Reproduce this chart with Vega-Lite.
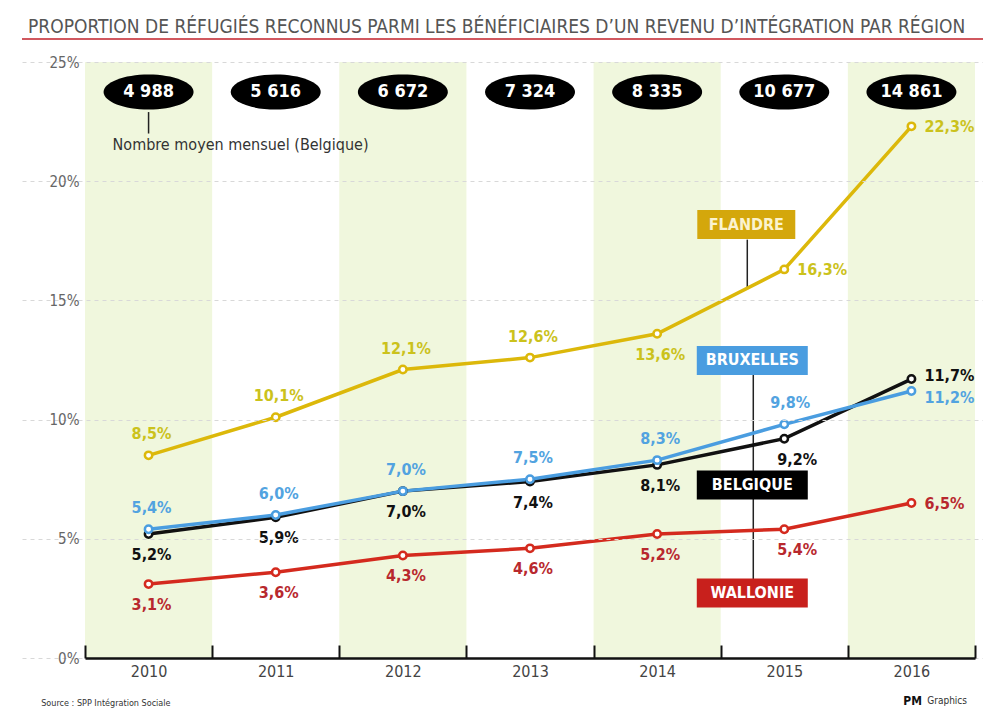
{
  "$schema": "https://vega.github.io/schema/vega-lite/v6.json",
  "width": 890,
  "height": 596,
  "autosize": {"type": "none"},
  "padding": {"left": 85, "top": 62, "right": 8, "bottom": 50},
  "background": "white",
  "config": {"view": {"stroke": null}},
  "title": {
    "text": "PROPORTION DE RÉFUGIÉS RECONNUS PARMI LES BÉNÉFICIAIRES D’UN REVENU D’INTÉGRATION PAR RÉGION",
    "anchor": "start",
    "frame": "group",
    "dx": -57,
    "offset": 1,
    "font": "Liberation Sans Narrow, DejaVu Sans Condensed",
    "fontSize": 19,
    "fontWeight": "normal",
    "color": "#555555"
  },
  "datasets": {
    "series": [
      {"region": "Wallonie", "year": 2010, "value": 3.1},
      {"region": "Wallonie", "year": 2011, "value": 3.6},
      {"region": "Wallonie", "year": 2012, "value": 4.3},
      {"region": "Wallonie", "year": 2013, "value": 4.6},
      {"region": "Wallonie", "year": 2014, "value": 5.2},
      {"region": "Wallonie", "year": 2015, "value": 5.4},
      {"region": "Wallonie", "year": 2016, "value": 6.5},
      {"region": "Belgique", "year": 2010, "value": 5.2},
      {"region": "Belgique", "year": 2011, "value": 5.9},
      {"region": "Belgique", "year": 2012, "value": 7.0},
      {"region": "Belgique", "year": 2013, "value": 7.4},
      {"region": "Belgique", "year": 2014, "value": 8.1},
      {"region": "Belgique", "year": 2015, "value": 9.2},
      {"region": "Belgique", "year": 2016, "value": 11.7},
      {"region": "Bruxelles", "year": 2010, "value": 5.4},
      {"region": "Bruxelles", "year": 2011, "value": 6.0},
      {"region": "Bruxelles", "year": 2012, "value": 7.0},
      {"region": "Bruxelles", "year": 2013, "value": 7.5},
      {"region": "Bruxelles", "year": 2014, "value": 8.3},
      {"region": "Bruxelles", "year": 2015, "value": 9.8},
      {"region": "Bruxelles", "year": 2016, "value": 11.2},
      {"region": "Flandre", "year": 2010, "value": 8.5},
      {"region": "Flandre", "year": 2011, "value": 10.1},
      {"region": "Flandre", "year": 2012, "value": 12.1},
      {"region": "Flandre", "year": 2013, "value": 12.6},
      {"region": "Flandre", "year": 2014, "value": 13.6},
      {"region": "Flandre", "year": 2015, "value": 16.3},
      {"region": "Flandre", "year": 2016, "value": 22.3}
    ],
    "counts": [
      {"year": 2010, "count": 4988},
      {"year": 2011, "count": 5616},
      {"year": 2012, "count": 6672},
      {"year": 2013, "count": 7324},
      {"year": 2014, "count": 8335},
      {"year": 2015, "count": 10677},
      {"year": 2016, "count": 14861}
    ]
  },
  "resolve": {"scale": {"x": "independent"}, "axis": {"x": "independent"}},
  "layer": [
    {
      "data": {"values": [{"note": "decor"}]},
      "layer": [
        {
          "mark": {"type": "rule", "color": "#c0202a", "strokeWidth": 1.5},
          "encoding": {
            "x": {"datum": 0, "type": "quantitative", "scale": {"domain": [0, 1], "range": [-63, 898]}, "axis": null},
            "x2": {"datum": 1},
            "y": {"datum": 25.96, "type": "quantitative"}
          }
        },
        {
          "mark": {"type": "text", "text": "Source : SPP Intégration Sociale", "align": "left", "baseline": "middle", "fontSize": 9, "color": "#333333", "font": "Liberation Sans Narrow, DejaVu Sans Condensed"},
          "encoding": {
            "x": {"datum": 0.02, "type": "quantitative"},
            "y": {"datum": -1.9, "type": "quantitative"}
          }
        },
        {
          "mark": {"type": "text", "text": "PM", "align": "left", "baseline": "middle", "fontSize": 12, "fontWeight": "bold", "color": "#111111", "font": "DejaVu Sans Condensed"},
          "encoding": {
            "x": {"datum": 0.917, "type": "quantitative"},
            "y": {"datum": -1.8, "type": "quantitative"}
          }
        },
        {
          "mark": {"type": "text", "text": "Graphics", "align": "left", "baseline": "middle", "fontSize": 10, "color": "#333333", "font": "DejaVu Sans Condensed"},
          "encoding": {
            "x": {"datum": 0.942, "type": "quantitative"},
            "y": {"datum": -1.8, "type": "quantitative"}
          }
        }
      ]
    },
    {
      "data": {"name": "series"},
      "encoding": {
        "x": {
          "field": "year",
          "type": "ordinal",
          "scale": {"domain": [2010, 2011, 2012, 2013, 2014, 2015, 2016], "paddingInner": 0, "paddingOuter": 0},
          "axis": {
            "orient": "bottom",
            "title": null,
            "labelAngle": 0,
            "labelFont": "Liberation Sans Narrow, DejaVu Sans Condensed",
            "labelFontSize": 16,
            "labelColor": "#444444",
            "domainColor": "#111111",
            "domainWidth": 2.5,
            "tickColor": "#111111",
            "tickWidth": 2,
            "tickSize": -13,
            "tickBand": "extent",
            "labelPadding": 18,
            "zindex": 1
          }
        }
      },
      "layer": [
        {
          "transform": [{"filter": "datum.region === 'Flandre' && datum.year % 2 === 0"}],
          "mark": {"type": "rect", "color": "#f0f7dd"},
          "encoding": {
            "y": {"datum": 0, "type": "quantitative"},
            "y2": {"datum": 25}
          }
        },
        {
          "data": {"values": [{"note": "connector"}]},
          "layer": [
            {
              "mark": {"type": "rule", "color": "#222222", "strokeWidth": 1.5, "xOffset": -37},
              "encoding": {
                "x": {"datum": 2015, "type": "ordinal"},
                "y": {"datum": 17.55, "type": "quantitative"},
                "y2": {"datum": 15.5}
              }
            },
            {
              "mark": {"type": "rule", "color": "#222222", "strokeWidth": 1.5, "xOffset": -31},
              "encoding": {
                "x": {"datum": 2015, "type": "ordinal"},
                "y": {"datum": 11.87, "type": "quantitative"},
                "y2": {"datum": 3.31}
              }
            },
            {
              "mark": {"type": "rule", "color": "#222222", "strokeWidth": 1.5},
              "encoding": {
                "x": {"datum": 2010, "type": "ordinal"},
                "y": {"datum": 22.9, "type": "quantitative"},
                "y2": {"datum": 22.0}
              }
            },
            {
              "mark": {"type": "text", "text": "Nombre moyen mensuel (Belgique)", "align": "left", "baseline": "middle", "fontSize": 16, "color": "#333333", "font": "Liberation Sans Narrow, DejaVu Sans Condensed", "dx": -36},
              "encoding": {
                "x": {"datum": 2010, "type": "ordinal"},
                "y": {"datum": 21.5, "type": "quantitative"}
              }
            }
          ]
        },
        {
          "mark": {"type": "line", "strokeWidth": 3.5},
          "encoding": {
            "y": {
              "field": "value",
              "type": "quantitative",
              "scale": {"domain": [0, 25], "nice": false},
              "axis": {
                "values": [0, 5, 10, 15, 20, 25],
                "labelExpr": "datum.value + '%'",
                "grid": true,
                "gridDash": [4, 4],
                "gridColor": "#d8d8d8",
                "ticks": false,
                "domain": false,
                "labelColor": "#666666",
                "labelFontSize": 15,
                "labelFont": "Liberation Sans Narrow, DejaVu Sans Condensed",
                "labelPadding": 6,
                "title": null,
                "zindex": 1
              }
            },
            "stroke": {
              "field": "region",
              "type": "nominal",
              "scale": {"domain": ["Wallonie", "Belgique", "Bruxelles", "Flandre"], "range": ["#d42a1e", "#111111", "#4a9de0", "#dcb80a"]},
              "legend": null
            }
          }
        },
        {
          "mark": {"type": "point", "shape": "circle", "filled": true, "fill": "white", "strokeWidth": 2.5, "size": 55, "opacity": 1},
          "encoding": {
            "y": {"field": "value", "type": "quantitative"},
            "stroke": {"field": "region", "type": "nominal", "legend": null}
          }
        },
        {
          "transform": [
            {"filter": "(datum.region === 'Flandre' && datum.year <= 2013) || (datum.region === 'Bruxelles' && datum.year <= 2014)"},
            {"calculate": "replace(format(datum.value, '.1f'), '.', ',') + '%'", "as": "label"}
          ],
          "mark": {"type": "text", "fontWeight": "bold", "fontSize": 16, "font": "DejaVu Sans Condensed", "baseline": "middle", "align": "center", "dy": -21, "dx": 3},
          "encoding": {
            "y": {"field": "value", "type": "quantitative"},
            "text": {"field": "label"},
            "color": {"field": "region", "type": "nominal", "scale": {"domain": ["Wallonie", "Belgique", "Bruxelles", "Flandre"], "range": ["#b8282e", "#111111", "#52a3e0", "#cbc21c"]}, "legend": null}
          }
        },
        {
          "transform": [
            {"filter": "datum.region === 'Bruxelles' && datum.year === 2015"},
            {"calculate": "replace(format(datum.value, '.1f'), '.', ',') + '%'", "as": "label"}
          ],
          "mark": {"type": "text", "fontWeight": "bold", "fontSize": 16, "font": "DejaVu Sans Condensed", "baseline": "middle", "align": "center", "dy": -21, "dx": 6},
          "encoding": {
            "y": {"field": "value", "type": "quantitative"},
            "text": {"field": "label"},
            "color": {"field": "region", "type": "nominal", "legend": null}
          }
        },
        {
          "transform": [
            {"filter": "(datum.region === 'Flandre' && datum.year === 2014) || ((datum.region === 'Belgique' || datum.region === 'Wallonie') && datum.year <= 2014)"},
            {"calculate": "replace(format(datum.value, '.1f'), '.', ',') + '%'", "as": "label"}
          ],
          "mark": {"type": "text", "fontWeight": "bold", "fontSize": 16, "font": "DejaVu Sans Condensed", "baseline": "middle", "align": "center", "dy": 21, "dx": 3},
          "encoding": {
            "y": {"field": "value", "type": "quantitative"},
            "text": {"field": "label"},
            "color": {"field": "region", "type": "nominal", "legend": null}
          }
        },
        {
          "transform": [
            {"filter": "(datum.region === 'Belgique' || datum.region === 'Wallonie') && datum.year === 2015"},
            {"calculate": "replace(format(datum.value, '.1f'), '.', ',') + '%'", "as": "label"}
          ],
          "mark": {"type": "text", "fontWeight": "bold", "fontSize": 16, "font": "DejaVu Sans Condensed", "baseline": "middle", "align": "center", "dy": 21, "dx": 13},
          "encoding": {
            "y": {"field": "value", "type": "quantitative"},
            "text": {"field": "label"},
            "color": {"field": "region", "type": "nominal", "legend": null}
          }
        },
        {
          "transform": [
            {"filter": "(datum.year === 2016 && (datum.region === 'Flandre' || datum.region === 'Wallonie')) || (datum.region === 'Flandre' && datum.year === 2015)"},
            {"calculate": "replace(format(datum.value, '.1f'), '.', ',') + '%'", "as": "label"}
          ],
          "mark": {"type": "text", "fontWeight": "bold", "fontSize": 16, "font": "DejaVu Sans Condensed", "baseline": "middle", "align": "left", "dx": 13, "dy": 1},
          "encoding": {
            "y": {"field": "value", "type": "quantitative"},
            "text": {"field": "label"},
            "color": {"field": "region", "type": "nominal", "legend": null}
          }
        },
        {
          "transform": [
            {"filter": "datum.year === 2016 && datum.region === 'Belgique'"},
            {"calculate": "replace(format(datum.value, '.1f'), '.', ',') + '%'", "as": "label"}
          ],
          "mark": {"type": "text", "fontWeight": "bold", "fontSize": 16, "font": "DejaVu Sans Condensed", "baseline": "middle", "align": "left", "dx": 13, "dy": -3},
          "encoding": {
            "y": {"field": "value", "type": "quantitative"},
            "text": {"field": "label"},
            "color": {"field": "region", "type": "nominal", "legend": null}
          }
        },
        {
          "transform": [
            {"filter": "datum.year === 2016 && datum.region === 'Bruxelles'"},
            {"calculate": "replace(format(datum.value, '.1f'), '.', ',') + '%'", "as": "label"}
          ],
          "mark": {"type": "text", "fontWeight": "bold", "fontSize": 16, "font": "DejaVu Sans Condensed", "baseline": "middle", "align": "left", "dx": 13, "dy": 7},
          "encoding": {
            "y": {"field": "value", "type": "quantitative"},
            "text": {"field": "label"},
            "color": {"field": "region", "type": "nominal", "legend": null}
          }
        },
        {
          "data": {"name": "counts"},
          "transform": [{"calculate": "replace(format(datum.count, ','), ',', ' ')", "as": "label"}],
          "layer": [
            {
              "mark": {"type": "point", "shape": "M -1 0 A 1 0.39 0 1 1 1 0 A 1 0.39 0 1 1 -1 0 Z", "filled": true, "color": "#000000", "size": 8100, "opacity": 1},
              "encoding": {"y": {"datum": 23.74, "type": "quantitative"}}
            },
            {
              "mark": {"type": "text", "color": "white", "fontWeight": "bold", "fontSize": 18, "font": "DejaVu Sans Condensed", "baseline": "middle", "align": "center"},
              "encoding": {
                "y": {"datum": 23.74, "type": "quantitative"},
                "text": {"field": "label"}
              }
            }
          ]
        },
        {
          "data": {"values": [{"note": "boxes"}]},
          "layer": [
            {
              "mark": {"type": "point", "shape": "M -1 -0.296 L 1 -0.296 L 1 0.296 L -1 0.296 Z", "filled": true, "color": "#d4a70c", "size": 9604, "opacity": 1, "xOffset": -38},
              "encoding": {"x": {"datum": 2015, "type": "ordinal"}, "y": {"datum": 18.18, "type": "quantitative"}}
            },
            {
              "mark": {"type": "text", "text": "FLANDRE", "color": "#fbf3d0", "fontWeight": "bold", "fontSize": 16, "font": "DejaVu Sans Condensed", "baseline": "middle", "align": "center", "xOffset": -38},
              "encoding": {"x": {"datum": 2015, "type": "ordinal"}, "y": {"datum": 18.18, "type": "quantitative"}}
            },
            {
              "mark": {"type": "point", "shape": "M -1 -0.261 L 1 -0.261 L 1 0.261 L -1 0.261 Z", "filled": true, "color": "#4a9de0", "size": 12321, "opacity": 1, "xOffset": -32},
              "encoding": {"x": {"datum": 2015, "type": "ordinal"}, "y": {"datum": 12.48, "type": "quantitative"}}
            },
            {
              "mark": {"type": "text", "text": "BRUXELLES", "color": "white", "fontWeight": "bold", "fontSize": 16, "font": "DejaVu Sans Condensed", "baseline": "middle", "align": "center", "xOffset": -32},
              "encoding": {"x": {"datum": 2015, "type": "ordinal"}, "y": {"datum": 12.48, "type": "quantitative"}}
            },
            {
              "mark": {"type": "point", "shape": "M -1 -0.261 L 1 -0.261 L 1 0.261 L -1 0.261 Z", "filled": true, "color": "#000000", "size": 12321, "opacity": 1, "xOffset": -32},
              "encoding": {"x": {"datum": 2015, "type": "ordinal"}, "y": {"datum": 7.26, "type": "quantitative"}}
            },
            {
              "mark": {"type": "text", "text": "BELGIQUE", "color": "white", "fontWeight": "bold", "fontSize": 16, "font": "DejaVu Sans Condensed", "baseline": "middle", "align": "center", "xOffset": -32},
              "encoding": {"x": {"datum": 2015, "type": "ordinal"}, "y": {"datum": 7.26, "type": "quantitative"}}
            },
            {
              "mark": {"type": "point", "shape": "M -1 -0.261 L 1 -0.261 L 1 0.261 L -1 0.261 Z", "filled": true, "color": "#c8201c", "size": 12321, "opacity": 1, "xOffset": -32},
              "encoding": {"x": {"datum": 2015, "type": "ordinal"}, "y": {"datum": 2.73, "type": "quantitative"}}
            },
            {
              "mark": {"type": "text", "text": "WALLONIE", "color": "white", "fontWeight": "bold", "fontSize": 16, "font": "DejaVu Sans Condensed", "baseline": "middle", "align": "center", "xOffset": -32},
              "encoding": {"x": {"datum": 2015, "type": "ordinal"}, "y": {"datum": 2.73, "type": "quantitative"}}
            }
          ]
        }
      ]
    }
  ]
}
